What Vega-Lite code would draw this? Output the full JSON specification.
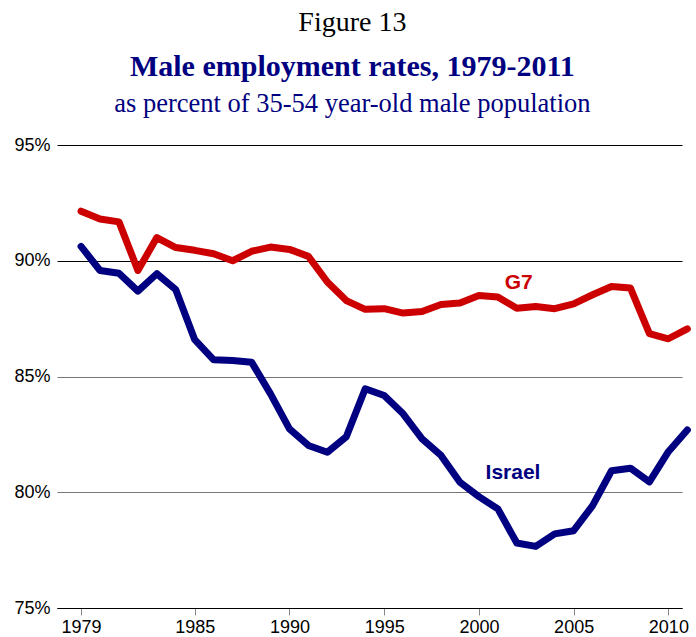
{
  "$schema": "https://vega.github.io/schema/vega-lite/v6.json",
  "padding": {"left": 13, "top": 8, "right": 5, "bottom": 0},
  "background": "white",
  "title": {"text": "Figure 13", "font": "Liberation Serif", "fontSize": 28, "fontWeight": "normal", "color": "black", "anchor": "middle", "frame": "bounds", "offset": 15},
  "config": {"view": {"stroke": null}, "concat": {"spacing": 0}},
  "datasets": {
    "series": [
      {"year": 1979, "series": "G7", "value": 92.14},
      {"year": 1980, "series": "G7", "value": 91.8},
      {"year": 1981, "series": "G7", "value": 91.68},
      {"year": 1982, "series": "G7", "value": 89.58},
      {"year": 1983, "series": "G7", "value": 91.0},
      {"year": 1984, "series": "G7", "value": 90.57},
      {"year": 1985, "series": "G7", "value": 90.45},
      {"year": 1986, "series": "G7", "value": 90.3},
      {"year": 1987, "series": "G7", "value": 90.0},
      {"year": 1988, "series": "G7", "value": 90.41},
      {"year": 1989, "series": "G7", "value": 90.59},
      {"year": 1990, "series": "G7", "value": 90.49},
      {"year": 1991, "series": "G7", "value": 90.19},
      {"year": 1992, "series": "G7", "value": 89.08},
      {"year": 1993, "series": "G7", "value": 88.28},
      {"year": 1994, "series": "G7", "value": 87.9},
      {"year": 1995, "series": "G7", "value": 87.93},
      {"year": 1996, "series": "G7", "value": 87.74},
      {"year": 1997, "series": "G7", "value": 87.81},
      {"year": 1998, "series": "G7", "value": 88.11},
      {"year": 1999, "series": "G7", "value": 88.17},
      {"year": 2000, "series": "G7", "value": 88.5},
      {"year": 2001, "series": "G7", "value": 88.43},
      {"year": 2002, "series": "G7", "value": 87.95},
      {"year": 2003, "series": "G7", "value": 88.02},
      {"year": 2004, "series": "G7", "value": 87.93},
      {"year": 2005, "series": "G7", "value": 88.14},
      {"year": 2006, "series": "G7", "value": 88.53},
      {"year": 2007, "series": "G7", "value": 88.89},
      {"year": 2008, "series": "G7", "value": 88.82},
      {"year": 2009, "series": "G7", "value": 86.85},
      {"year": 2010, "series": "G7", "value": 86.63},
      {"year": 2011, "series": "G7", "value": 87.06},
      {"year": 1979, "series": "Israel", "value": 90.62},
      {"year": 1980, "series": "Israel", "value": 89.58},
      {"year": 1981, "series": "Israel", "value": 89.46},
      {"year": 1982, "series": "Israel", "value": 88.69},
      {"year": 1983, "series": "Israel", "value": 89.44},
      {"year": 1984, "series": "Israel", "value": 88.75},
      {"year": 1985, "series": "Israel", "value": 86.59},
      {"year": 1986, "series": "Israel", "value": 85.72},
      {"year": 1987, "series": "Israel", "value": 85.69},
      {"year": 1988, "series": "Israel", "value": 85.62},
      {"year": 1989, "series": "Israel", "value": 84.25},
      {"year": 1990, "series": "Israel", "value": 82.74},
      {"year": 1991, "series": "Israel", "value": 82.02},
      {"year": 1992, "series": "Israel", "value": 81.73},
      {"year": 1993, "series": "Israel", "value": 82.4},
      {"year": 1994, "series": "Israel", "value": 84.47},
      {"year": 1995, "series": "Israel", "value": 84.18},
      {"year": 1996, "series": "Israel", "value": 83.39},
      {"year": 1997, "series": "Israel", "value": 82.31},
      {"year": 1998, "series": "Israel", "value": 81.59},
      {"year": 1999, "series": "Israel", "value": 80.43},
      {"year": 2000, "series": "Israel", "value": 79.81},
      {"year": 2001, "series": "Israel", "value": 79.28},
      {"year": 2002, "series": "Israel", "value": 77.81},
      {"year": 2003, "series": "Israel", "value": 77.66},
      {"year": 2004, "series": "Israel", "value": 78.2},
      {"year": 2005, "series": "Israel", "value": 78.34},
      {"year": 2006, "series": "Israel", "value": 79.42},
      {"year": 2007, "series": "Israel", "value": 80.93},
      {"year": 2008, "series": "Israel", "value": 81.04},
      {"year": 2009, "series": "Israel", "value": 80.45},
      {"year": 2010, "series": "Israel", "value": 81.75},
      {"year": 2011, "series": "Israel", "value": 82.69}
    ],
    "labels": [
      {"year": 2002.1, "value": 89.02, "series": "G7", "label": "G7"},
      {"year": 2001.8, "value": 80.81, "series": "Israel", "label": "Israel"}
    ]
  },
  "vconcat": [
    {
      "width": 625,
      "height": 463,
      "title": {
        "text": "Male employment rates, 1979-2011",
        "subtitle": "as percent of 35-54 year-old male population",
        "font": "Liberation Serif",
        "fontSize": 30,
        "fontWeight": "bold",
        "color": "#000080",
        "subtitleFont": "Liberation Serif",
        "subtitleFontSize": 26.5,
        "subtitleColor": "#000080",
        "subtitlePadding": 9,
        "anchor": "middle",
        "frame": "bounds",
        "offset": 19
      },
      "encoding": {
        "x": {
          "field": "year",
          "type": "quantitative",
          "scale": {"domain": [1977.73, 2010.72], "nice": false, "zero": false},
          "axis": {
            "values": [1979, 1985, 1990, 1995, 2000, 2005, 2010],
            "format": "d",
            "title": null,
            "grid": false,
            "domainColor": "black",
            "domainWidth": 1,
            "tickColor": "#888888",
            "tickSize": 7,
            "labelFont": "Liberation Sans",
            "labelFontSize": 18,
            "labelColor": "black",
            "labelPadding": 3,
            "labelFlush": false,
            "labelOverlap": false
          }
        },
        "y": {
          "field": "value",
          "type": "quantitative",
          "scale": {"domain": [75, 95], "nice": false, "zero": false},
          "axis": {
            "values": [75, 80, 85, 90, 95],
            "labelExpr": "datum.value + '%'",
            "title": null,
            "domain": false,
            "ticks": false,
            "grid": true,
            "gridColor": {"condition": {"test": "datum.value >= 90 || datum.value == 75", "value": "black"}, "value": "#777777"},
            "gridWidth": 1,
            "gridOpacity": 1,
            "labelFont": "Liberation Sans",
            "labelFontSize": 18,
            "labelColor": "black",
            "labelPadding": 7
          }
        }
      },
      "layer": [
        {
          "data": {"name": "series"},
          "mark": {"type": "line", "strokeWidth": 7, "strokeCap": "round", "strokeJoin": "round", "clip": false},
          "encoding": {
            "color": {"field": "series", "type": "nominal", "scale": {"domain": ["G7", "Israel"], "range": ["#CC0000", "#000080"]}, "legend": null},
            "detail": {"field": "series"}
          }
        },
        {
          "data": {"name": "labels"},
          "mark": {"type": "text", "font": "Liberation Sans", "fontSize": 21, "fontWeight": "bold", "align": "center", "baseline": "middle"},
          "encoding": {
            "text": {"field": "label"},
            "color": {"field": "series", "type": "nominal", "scale": {"domain": ["G7", "Israel"], "range": ["#CC0000", "#000080"]}, "legend": null}
          }
        }
      ]
    }
  ]
}
